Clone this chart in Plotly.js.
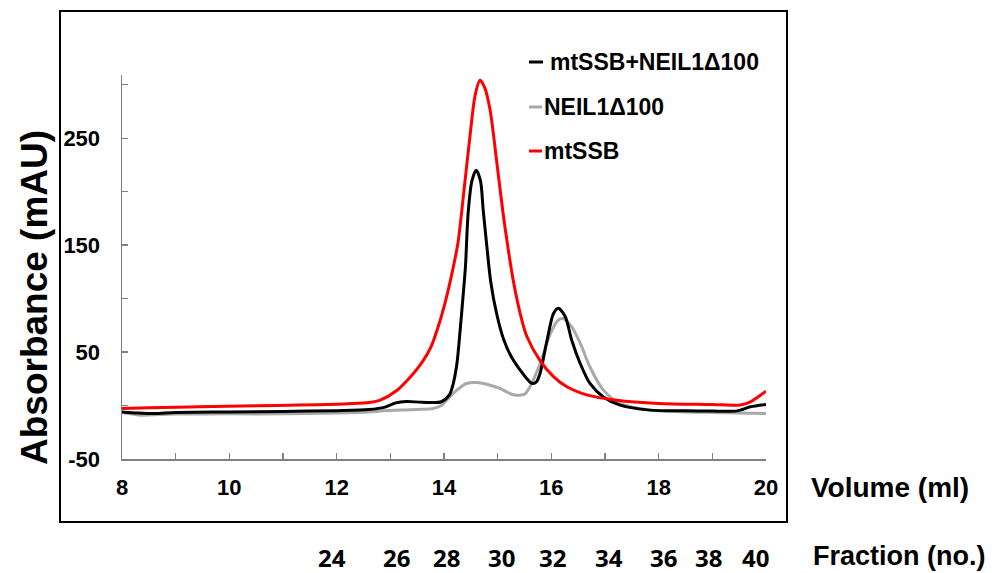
<!DOCTYPE html>
<html>
<head>
<meta charset="utf-8">
<script src="https://cdn.plot.ly/plotly-3.0.1.min.js"></script>
<style>html,body{margin:0;padding:0;background:#fff;}#chart{width:996px;height:573px;}</style>
</head>
<body>
<div id="chart"></div>
<script>
// ---- data ----
const seriesNames = ['mtSSB+NEIL1\u0394100', 'NEIL1\u0394100', 'mtSSB'];

const volBlack = [8.0, 8.3, 8.6, 9.0, 10.0, 11.0, 12.0, 12.6, 12.9, 13.1, 13.3, 13.6, 13.95, 14.1, 14.17, 14.24, 14.30, 14.36, 14.40, 14.45, 14.52, 14.60, 14.68, 14.73, 14.80, 14.87, 14.98, 15.11, 15.25, 15.42, 15.60, 15.66, 15.72, 15.79, 15.92, 16.04, 16.13, 16.26, 16.38, 16.54, 16.72, 16.97, 17.28, 17.84, 18.5, 19.0, 19.46, 19.71, 20.0];
const absBlack = [-6, -7, -7.5, -6.5, -6, -5.5, -4.8, -3.8, -1.5, 2.5, 3.8, 3, 3.5, 10, 20, 39, 70, 105, 130, 180, 210, 220, 210, 183, 148, 116, 86, 62, 46, 33, 22, 20.5, 22, 30, 61, 86, 91, 83, 61, 39, 20.6, 8, 0.4, -4.3, -5, -5.2, -5, -1.2, 1];

const volGray = [8.0, 8.36, 8.7, 9.0, 10.0, 11.0, 12.0, 12.6, 12.87, 13.49, 13.8, 13.95, 14.05, 14.24, 14.42, 14.61, 14.86, 15.04, 15.29, 15.42, 15.5, 15.6, 15.79, 15.98, 16.13, 16.22, 16.38, 16.54, 16.72, 16.97, 17.28, 17.84, 18.5, 19.0, 19.5, 20.0];
const absGray = [-6.5, -9, -8.5, -8, -7.8, -7.8, -7, -6, -5, -3.7, -2.7, 0, 5, 14.4, 20.6, 21.5, 19, 16, 10, 9.7, 10.5, 17.4, 39, 67, 80, 81.3, 73.5, 58, 36, 14.4, 2, -4.3, -6, -6.5, -7, -7.4];

const volRed = [8.0, 8.5, 9.45, 10.5, 11.31, 12.0, 12.56, 12.81, 13.12, 13.43, 13.6, 13.76, 13.9, 14.04, 14.15, 14.26, 14.37, 14.48, 14.58, 14.67, 14.76, 14.86, 14.98, 15.1, 15.2, 15.29, 15.42, 15.54, 15.79, 16.04, 16.29, 16.66, 17.22, 18.0, 19.0, 19.52, 19.71, 20.0];
const absRed = [-2.7, -2, -1.2, -0.3, 0.4, 1.3, 2.5, 5, 14, 30, 41, 55, 75, 100, 124, 152, 200, 250, 290, 304, 297, 276, 229, 180, 145, 117, 86, 65, 42, 27, 17.5, 10, 5, 2, 1, 0.4, 3.4, 13.4];

const xTickVals = [8, 9, 10, 11, 12, 13, 14, 15, 16, 17, 18, 19, 20];
const xTickText = ['8', '', '10', '', '12', '', '14', '', '16', '', '18', '', '20'];
const yTickVals = [-50, 0, 50, 100, 150, 200, 250, 300];
const yTickText = ['-50', '', '50', '', '150', '', '250', ''];

const fractionLabels = ['24', '26', '28', '30', '32', '34', '36', '38', '40'];
const fractionVolumes = [11.91, 13.11, 14.04, 15.08, 16.02, 17.08, 18.09, 18.93, 19.80];

// ---- layout geometry ----
const W = 996, H = 573;
const M = {l: 122, r: 230, t: 75, b: 114};
const PW = W - M.l - M.r, PH = H - M.t - M.b;
const px = x => (x - M.l) / PW;          // pixel -> paper x
const py = y => (H - M.b - y) / PH;      // pixel -> paper y

const FONT = '"Liberation Sans", Arial, sans-serif';
const colors = ['#000000', '#a9a9a9', '#ff0000'];
const bold = s => s ? '<b>' + s + '</b>' : '';

const traces = [
  {x: volBlack, y: absBlack, name: seriesNames[0]},
  {x: volGray, y: absGray, name: seriesNames[1]},
  {x: volRed, y: absRed, name: seriesNames[2]}
].map((t, i) => Object.assign(t, {
  type: 'scatter', mode: 'lines',
  line: {color: colors[i], width: 3, shape: 'spline', smoothing: 0.8},
  showlegend: false, hoverinfo: 'skip'
}));
const data = [traces[1], traces[0], traces[2]];

const annotations = [];
const shapes = [];

// frame
shapes.push({type: 'rect', xref: 'paper', yref: 'paper',
  x0: px(60), x1: px(787), y0: py(522), y1: py(11),
  line: {color: '#000', width: 2}, fillcolor: 'rgba(0,0,0,0)'});

// legend (short line samples + labels)
const legY = [62, 107, 151];
const legLineX = [[529, 543], [529, 542], [529, 542]];
const legTextX = [548, 542, 542];
for (let i = 0; i < 3; i++) {
  shapes.push({type: 'line', xref: 'paper', yref: 'paper',
    x0: px(legLineX[i][0]), x1: px(legLineX[i][1]), y0: py(legY[i]), y1: py(legY[i]),
    line: {color: colors[i], width: 3}});
  annotations.push({xref: 'paper', yref: 'paper', x: px(legTextX[i]), y: py(legY[i]),
    xanchor: 'left', yanchor: 'middle', showarrow: false,
    text: bold(seriesNames[i]), font: {family: FONT, size: 23, color: '#000'}});
}

// y axis title
annotations.push({xref: 'paper', yref: 'paper', x: px(34), y: py(298), textangle: -90,
  xanchor: 'center', yanchor: 'middle', showarrow: false,
  text: bold('Absorbance (mAU)'), font: {family: FONT, size: 37, color: '#000'}});

// x axis titles
annotations.push({xref: 'paper', yref: 'paper', x: px(890), y: py(487),
  xanchor: 'center', yanchor: 'middle', showarrow: false,
  text: bold('Volume (ml)'), font: {family: FONT, size: 28, color: '#000'}});
annotations.push({xref: 'paper', yref: 'paper', x: px(899), y: py(556),
  xanchor: 'center', yanchor: 'middle', showarrow: false,
  text: bold('Fraction (no.)'), font: {family: FONT, size: 27, color: '#000'}});

// fraction numbers
fractionLabels.forEach((lab, i) => {
  annotations.push({xref: 'x', yref: 'paper', x: fractionVolumes[i], y: py(557),
    xanchor: 'center', yanchor: 'middle', showarrow: false,
    text: bold(lab), font: {family: '"Open Sans", "Lato", sans-serif', size: 24, color: '#000'}});
});

const layout = {
  width: W, height: H,
  margin: M,
  paper_bgcolor: '#fff', plot_bgcolor: '#fff',
  showlegend: false,
  xaxis: {
    range: [8, 20], showgrid: false, zeroline: false,
    showline: true, linecolor: '#808080', linewidth: 1.5,
    ticks: 'inside', ticklen: 6, tickwidth: 1.2, tickcolor: '#808080',
    tickvals: xTickVals, ticktext: xTickText.map(bold),
    ticklabelstandoff: 8,
    tickfont: {family: FONT, size: 22, color: '#000'}
  },
  yaxis: {
    range: [-50, 309], showgrid: false, zeroline: false,
    showline: true, linecolor: '#808080', linewidth: 1.5,
    ticks: 'inside', ticklen: 6, tickwidth: 1.2, tickcolor: '#808080',
    tickvals: yTickVals, ticktext: yTickText.map(bold),
    ticklabelstandoff: 16,
    tickfont: {family: FONT, size: 22, color: '#000'}
  },
  shapes: shapes,
  annotations: annotations
};

Plotly.newPlot('chart', data, layout, {staticPlot: true, displayModeBar: false});
</script>
</body>
</html>
